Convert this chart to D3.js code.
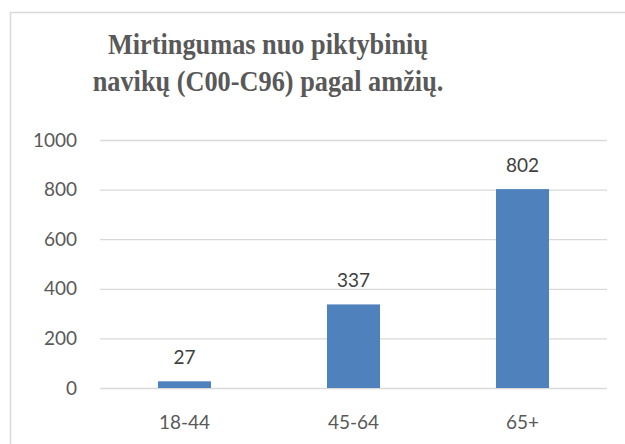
<!DOCTYPE html>
<html>
<head>
<meta charset="utf-8">
<script src="https://cdn.jsdelivr.net/npm/d3@7"></script>
<style>
  body { margin: 0; background: #fff; }
  svg { display: block; }
</style>
</head>
<body>
<svg width="625" height="444"></svg>
<script>
// chart data
const categories = ["18-44", "45-64", "65+"];
const values = [27, 337, 802];
const yTicks = [0, 200, 400, 600, 800, 1000];
const titleLines = ["Mirtingumas nuo piktybinių", "navikų (C00-C96) pagal amžių."];

const svg = d3.select("svg");

// outer chart frame (cut off on right and bottom like the picture)
svg.append("path")
  .attr("d", "M10.5,460V12.5H640")
  .attr("fill", "none")
  .attr("stroke", "#d9d9d9")
  .attr("stroke-width", 1.5);

const x = d3.scaleBand()
  .domain(categories)
  .range([100, 607])
  .paddingInner(0.686)
  .paddingOuter(0.343);

const y = d3.scaleLinear().domain([0, 1000]).range([388, 140]);

// title - the original is a bit squeezed horizontally
svg.append("g")
  .attr("transform", "translate(268,0) scale(0.877,1)")
  .selectAll("text")
  .data(titleLines)
  .join("text")
  .attr("x", 0)
  .attr("y", (d, i) => 54 + i * 37)
  .attr("text-anchor", "middle")
  .attr("font-family", "'Liberation Serif', 'Times New Roman', serif")
  .attr("font-weight", "bold")
  .attr("font-size", 30)
  .attr("fill", "#595959")
  .text((d) => d);

// gridlines + y labels
const yAxis = svg.append("g")
  .attr("transform", "translate(100,0)")
  .call(
    d3.axisLeft(y)
      .tickValues(yTicks)
      .tickFormat(d3.format("d"))
      .tickSize(-507)
      .tickPadding(23)
  );
yAxis.select(".domain").remove();
yAxis.selectAll(".tick line").attr("stroke", "#d9d9d9").attr("stroke-width", 1.3);
yAxis.selectAll(".tick text")
  .attr("font-family", "Lato, 'Open Sans', sans-serif")
  .attr("font-size", 19)
  .attr("fill", "#595959");

// bars
svg.append("g")
  .selectAll("rect")
  .data(values)
  .join("rect")
  .attr("x", (d, i) => x(categories[i]))
  .attr("width", x.bandwidth())
  .attr("y", (d) => y(d))
  .attr("height", (d) => y(0) - y(d))
  .attr("fill", "#4f81bd");

// value labels
svg.append("g")
  .selectAll("text")
  .data(values)
  .join("text")
  .attr("x", (d, i) => x(categories[i]) + x.bandwidth() / 2)
  .attr("y", (d) => y(d) - 17)
  .attr("text-anchor", "middle")
  .attr("font-family", "Lato, 'Open Sans', sans-serif")
  .attr("font-size", 19)
  .attr("fill", "#404040")
  .text((d) => d);

// x axis labels
const xAxis = svg.append("g")
  .attr("transform", "translate(0,388)")
  .call(d3.axisBottom(x).tickSize(0).tickPadding(28));
xAxis.select(".domain").remove();
xAxis.selectAll(".tick text")
  .attr("font-family", "Lato, 'Open Sans', sans-serif")
  .attr("font-size", 19)
  .attr("fill", "#595959");
</script>
</body>
</html>
